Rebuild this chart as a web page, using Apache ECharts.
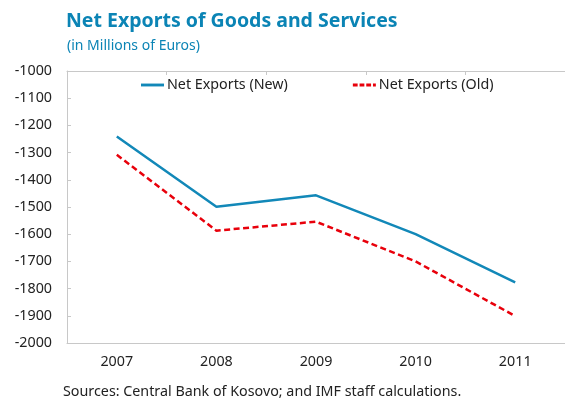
<!DOCTYPE html>
<html><head><meta charset="utf-8">
<script src="https://cdn.jsdelivr.net/npm/echarts@6/dist/echarts.min.js"></script>
<style>html,body{margin:0;padding:0;background:#fff}#c{width:565px;height:398px}</style>
</head><body><div id="c"></div>
<script>
const categories = ['2007', '2008', '2009', '2010', '2011'];
const netExportsNew = [-1241, -1499, -1457, -1600, -1777];
const netExportsOld = [-1308, -1587, -1554, -1700, -1901];
const yTicks = { min: -2000, max: -1000, interval: 100 };

const FONT = 'Noto Sans';
const chart = echarts.init(document.getElementById('c'));
chart.setOption({
  animation: false,
  textStyle: { fontFamily: FONT },
  title: [
    { text: 'Net Exports of Goods and Services', left: 61, top: 6,
      textStyle: { fontFamily: FONT, fontSize: 19.5, fontWeight: 'bold', color: '#0b84b5' } },
    { text: '(in Millions of Euros)', left: 62, top: 34,
      textStyle: { fontFamily: FONT, fontSize: 14, fontWeight: 'normal', color: '#0b84b5' } },
    { text: 'Sources: Central Bank of Kosovo; and IMF staff calculations.', left: 58, top: 380,
      textStyle: { fontFamily: FONT, fontSize: 14.3, fontWeight: 'normal', color: '#222' } }
  ],
  legend: {
    left: 136, top: 73, itemWidth: 23, itemHeight: 3, itemGap: 65,
    textStyle: { fontFamily: FONT, fontSize: 14.3, color: '#222', padding: [0, 0, 0, -2] },
    data: [
      { name: 'Net Exports (New)', icon: 'path://M0,0 L24,0 L24,3 L0,3 Z' },
      { name: 'Net Exports (Old)', icon: 'path://M0,0 L5,0 L5,3 L0,3 Z M7,0 L12,0 L12,3 L7,3 Z M14,0 L19,0 L19,3 L14,3 Z M21,0 L24,0 L24,3 L21,3 Z' }
    ]
  },
  grid: { left: 67, top: 71, width: 510, height: 272 },
  xAxis: [
    { type: 'category', data: categories, position: 'bottom', boundaryGap: true,
      axisLine: { lineStyle: { color: '#c8c8c8', width: 1 } },
      axisTick: { show: false },
      axisLabel: { fontFamily: FONT, fontSize: 14.3, color: '#222', margin: 12 } },
    { type: 'category', data: categories, position: 'top', boundaryGap: true,
      axisLine: { lineStyle: { color: '#c8c8c8', width: 1 } },
      axisTick: { show: true, inside: true, length: 4, lineStyle: { color: '#c8c8c8' } },
      axisLabel: { show: false } }
  ],
  yAxis: {
    type: 'value', min: yTicks.min, max: yTicks.max, interval: yTicks.interval,
    axisLine: { show: true, lineStyle: { color: '#c8c8c8', width: 1 } },
    axisTick: { show: true, inside: true, length: 4, lineStyle: { color: '#c8c8c8' } },
    splitLine: { show: false },
    axisLabel: { fontFamily: FONT, fontSize: 14.3, color: '#222', margin: 15,
      formatter: v => String(v) }
  },
  series: [
    { name: 'Net Exports (New)', type: 'line', data: netExportsNew, symbol: 'none',
      lineStyle: { color: '#1288b8', width: 2.5 }, itemStyle: { color: '#1288b8' } },
    { name: 'Net Exports (Old)', type: 'line', data: netExportsOld, symbol: 'none',
      lineStyle: { color: '#e8000b', width: 2.5, type: [6, 3.5] }, itemStyle: { color: '#e8000b' } }
  ]
});
</script></body></html>
